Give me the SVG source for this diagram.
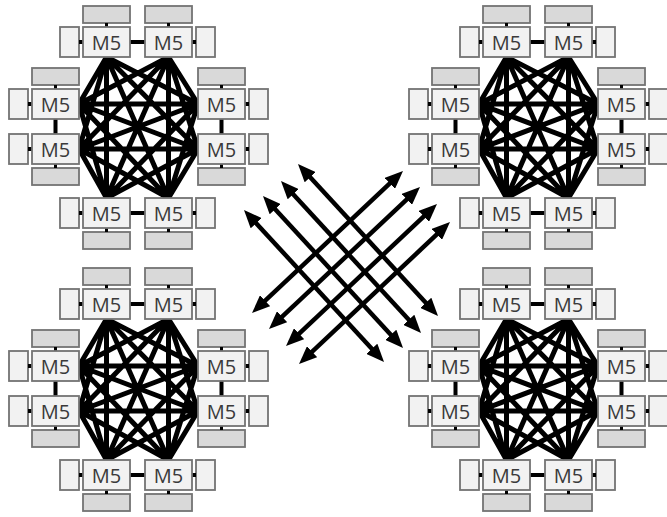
<svg xmlns="http://www.w3.org/2000/svg" xmlns:xlink="http://www.w3.org/1999/xlink" width="667" height="517" viewBox="0 0 667 517">
<style>
.m{fill:#f2f2f2;stroke:#737373;stroke-width:1.8}
.g{fill:#d9d9d9;stroke:#737373;stroke-width:1.8}
.s{stroke:#000;stroke-width:3}
.k{stroke:#000;stroke-width:4}
.t{font-family:"Open Sans","Liberation Sans",sans-serif;font-size:20px;fill:#3a3a3a;text-anchor:middle}
.e{fill:none;stroke:#000;stroke-width:5;stroke-linejoin:round;stroke-linecap:round}
.c{fill:none;stroke:#000;stroke-width:4}
.a{fill:none;stroke:#000;stroke-width:4.5;marker-start:url(#ah);marker-end:url(#ah)}
</style>
<defs>
<marker id="ah" markerUnits="userSpaceOnUse" markerWidth="18" markerHeight="15" refX="1" refY="7.5" orient="auto-start-reverse" viewBox="0 0 18 15"><path d="M0,0L18,7.5L0,15z" fill="#000"/></marker>
<g id="vAL"><rect class="g" x="0" y="-21" width="47" height="17"/><path class="s" d="M23.5,-4V0"/><rect class="m" x="-23" y="0" width="19" height="30"/><path class="k" d="M-4,15H0"/><rect class="m" x="0" y="0" width="47" height="30"/></g>
<g id="vAR"><rect class="g" x="0" y="-21" width="47" height="17"/><path class="s" d="M23.5,-4V0"/><rect class="m" x="51" y="0" width="19" height="30"/><path class="k" d="M47,15H51"/><rect class="m" x="0" y="0" width="47" height="30"/></g>
<g id="vBL"><rect class="g" x="0" y="34" width="47" height="17"/><path class="s" d="M23.5,30V34"/><rect class="m" x="-23" y="0" width="19" height="30"/><path class="k" d="M-4,15H0"/><rect class="m" x="0" y="0" width="47" height="30"/></g>
<g id="vBR"><rect class="g" x="0" y="34" width="47" height="17"/><path class="s" d="M23.5,30V34"/><rect class="m" x="51" y="0" width="19" height="30"/><path class="k" d="M47,15H51"/><rect class="m" x="0" y="0" width="47" height="30"/></g>
<path id="mesh" d="M106.5,57L79,104M106.5,57L79,149M106.5,57L198,104M106.5,57L198,149M106.5,57L106.5,198M106.5,57L168.5,198M168.5,57L79,104M168.5,57L79,149M168.5,57L198,104M168.5,57L198,149M168.5,57L106.5,198M168.5,57L168.5,198M79,104L198,104M79,104L198,149M79,104L106.5,198M79,104L168.5,198M79,149L198,104M79,149L198,149M79,149L106.5,198M79,149L168.5,198M198,104L106.5,198M198,104L168.5,198M198,149L106.5,198M198,149L168.5,198"/>
</defs>
<rect width="667" height="517" fill="#fff"/>

<g id="cluster-tl">
<g id="tl-connectors"><use xlink:href="#mesh" class="e"/><path class="c" d="M130,42H145M130,213H145M55.5,119V134M221.5,119V134"/></g>
<g id="tl-n1" transform="translate(83,27)"><use xlink:href="#vAL"/><text class="t" x="23.5" y="22.5">M5</text></g>
<g id="tl-n2" transform="translate(145,27)"><use xlink:href="#vAR"/><text class="t" x="23.5" y="22.5">M5</text></g>
<g id="tl-n3" transform="translate(32,89)"><use xlink:href="#vAL"/><text class="t" x="23.5" y="22.5">M5</text></g>
<g id="tl-n4" transform="translate(32,134)"><use xlink:href="#vBL"/><text class="t" x="23.5" y="22.5">M5</text></g>
<g id="tl-n5" transform="translate(198,89)"><use xlink:href="#vAR"/><text class="t" x="23.5" y="22.5">M5</text></g>
<g id="tl-n6" transform="translate(198,134)"><use xlink:href="#vBR"/><text class="t" x="23.5" y="22.5">M5</text></g>
<g id="tl-n7" transform="translate(83,198)"><use xlink:href="#vBL"/><text class="t" x="23.5" y="22.5">M5</text></g>
<g id="tl-n8" transform="translate(145,198)"><use xlink:href="#vBR"/><text class="t" x="23.5" y="22.5">M5</text></g>
</g>

<g id="cluster-tr" transform="translate(400,0)">
<g id="tr-connectors"><use xlink:href="#mesh" class="e"/><path class="c" d="M130,42H145M130,213H145M55.5,119V134M221.5,119V134"/></g>
<g id="tr-n1" transform="translate(83,27)"><use xlink:href="#vAL"/><text class="t" x="23.5" y="22.5">M5</text></g>
<g id="tr-n2" transform="translate(145,27)"><use xlink:href="#vAR"/><text class="t" x="23.5" y="22.5">M5</text></g>
<g id="tr-n3" transform="translate(32,89)"><use xlink:href="#vAL"/><text class="t" x="23.5" y="22.5">M5</text></g>
<g id="tr-n4" transform="translate(32,134)"><use xlink:href="#vBL"/><text class="t" x="23.5" y="22.5">M5</text></g>
<g id="tr-n5" transform="translate(198,89)"><use xlink:href="#vAR"/><text class="t" x="23.5" y="22.5">M5</text></g>
<g id="tr-n6" transform="translate(198,134)"><use xlink:href="#vBR"/><text class="t" x="23.5" y="22.5">M5</text></g>
<g id="tr-n7" transform="translate(83,198)"><use xlink:href="#vBL"/><text class="t" x="23.5" y="22.5">M5</text></g>
<g id="tr-n8" transform="translate(145,198)"><use xlink:href="#vBR"/><text class="t" x="23.5" y="22.5">M5</text></g>
</g>

<g id="cluster-bl" transform="translate(0,262)">
<g id="bl-connectors"><use xlink:href="#mesh" class="e"/><path class="c" d="M130,42H145M130,213H145M55.5,119V134M221.5,119V134"/></g>
<g id="bl-n1" transform="translate(83,27)"><use xlink:href="#vAL"/><text class="t" x="23.5" y="22.5">M5</text></g>
<g id="bl-n2" transform="translate(145,27)"><use xlink:href="#vAR"/><text class="t" x="23.5" y="22.5">M5</text></g>
<g id="bl-n3" transform="translate(32,89)"><use xlink:href="#vAL"/><text class="t" x="23.5" y="22.5">M5</text></g>
<g id="bl-n4" transform="translate(32,134)"><use xlink:href="#vBL"/><text class="t" x="23.5" y="22.5">M5</text></g>
<g id="bl-n5" transform="translate(198,89)"><use xlink:href="#vAR"/><text class="t" x="23.5" y="22.5">M5</text></g>
<g id="bl-n6" transform="translate(198,134)"><use xlink:href="#vBR"/><text class="t" x="23.5" y="22.5">M5</text></g>
<g id="bl-n7" transform="translate(83,198)"><use xlink:href="#vBL"/><text class="t" x="23.5" y="22.5">M5</text></g>
<g id="bl-n8" transform="translate(145,198)"><use xlink:href="#vBR"/><text class="t" x="23.5" y="22.5">M5</text></g>
</g>

<g id="cluster-br" transform="translate(400,262)">
<g id="br-connectors"><use xlink:href="#mesh" class="e"/><path class="c" d="M130,42H145M130,213H145M55.5,119V134M221.5,119V134"/></g>
<g id="br-n1" transform="translate(83,27)"><use xlink:href="#vAL"/><text class="t" x="23.5" y="22.5">M5</text></g>
<g id="br-n2" transform="translate(145,27)"><use xlink:href="#vAR"/><text class="t" x="23.5" y="22.5">M5</text></g>
<g id="br-n3" transform="translate(32,89)"><use xlink:href="#vAL"/><text class="t" x="23.5" y="22.5">M5</text></g>
<g id="br-n4" transform="translate(32,134)"><use xlink:href="#vBL"/><text class="t" x="23.5" y="22.5">M5</text></g>
<g id="br-n5" transform="translate(198,89)"><use xlink:href="#vAR"/><text class="t" x="23.5" y="22.5">M5</text></g>
<g id="br-n6" transform="translate(198,134)"><use xlink:href="#vBR"/><text class="t" x="23.5" y="22.5">M5</text></g>
<g id="br-n7" transform="translate(83,198)"><use xlink:href="#vBL"/><text class="t" x="23.5" y="22.5">M5</text></g>
<g id="br-n8" transform="translate(145,198)"><use xlink:href="#vBR"/><text class="t" x="23.5" y="22.5">M5</text></g>
</g>

<g id="links">
<path class="a" d="M255.5,222.5L372.5,349.5"/>
<path class="a" d="M274.5,208.5L391.5,335.5"/>
<path class="a" d="M292.5,193.5L409.5,320.5"/>
<path class="a" d="M309.5,176.5L426.5,303.5"/>
<path class="a" d="M264.4,301.4L390.6,182.7"/>
<path class="a" d="M281.4,317.4L407.6,198.7"/>
<path class="a" d="M298.4,334.4L424.6,215.7"/>
<path class="a" d="M311.4,352.4L437.6,233.7"/>
</g>
</svg>
